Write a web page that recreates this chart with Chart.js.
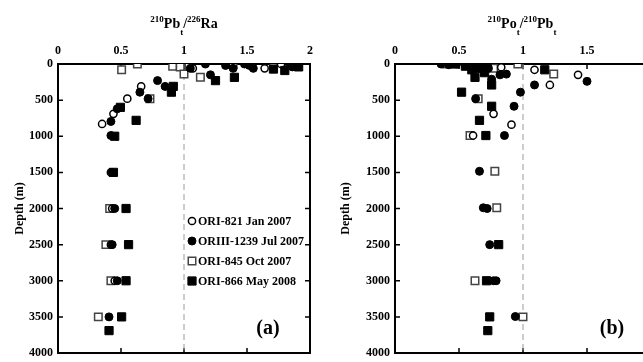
<!DOCTYPE html>
<html>
<head>
<meta charset="utf-8">
<script src="https://cdn.jsdelivr.net/npm/chart.js@4"></script>
<style>
  body { margin: 0; background: #fff; }
  #wrap { position: relative; width: 643px; height: 362px; overflow: hidden; }
  canvas { position: absolute; top: 0; }
</style>
</head>
<body>
<div id="wrap">
  <canvas id="chartA" width="345" height="362" style="left:0"></canvas>
  <canvas id="chartB" width="330" height="362" style="left:330px"></canvas>
</div>
<script>
// ---- data ----
var seriesNames = ['ORI-821 Jan 2007', 'ORIII-1239 Jul 2007', 'ORI-845 Oct 2007', 'ORI-866 May 2008']
var depthTicks = [0, 500, 1000, 1500, 2000, 2500, 3000, 3500, 4000]
var ratioTicks = [0, 0.5, 1, 1.5, 2]

// (a) 210Pb_t / 226Ra
var a821Ratio = [1.77, 1.91, 1.07, 1.64, 0.66, 0.55, 0.44, 0.35, 0.42, 0.43, 0.42, 0.45]
var a821Depth = [0, 0, 60, 60, 310, 480, 690, 830, 1500, 2000, 2500, 3000]
var a1239Ratio = [1.17, 1.33, 1.48, 1.52, 1.55, 1.86, 1.05, 1.21, 1.39, 0.79, 0.85, 0.65, 0.715, 0.47, 0.42, 0.42, 0.43, 0.45, 0.43, 0.47, 0.405]
var a1239Depth = [0, 20, 0, 20, 60, 40, 60, 150, 60, 230, 310, 390, 480, 620, 795, 990, 1500, 2000, 2500, 3000, 3500]
var a845Ratio = [0.63, 0.505, 0.91, 0.97, 1.04, 1.0, 1.13, 1.35, 1.39, 1.71, 0.73, 0.41, 0.38, 0.42, 0.32]
var a845Depth = [0, 80, 30, 40, 40, 140, 185, 0, 0, 0, 480, 2000, 2500, 3000, 3500]
var a866Ratio = [1.84, 1.91, 1.71, 1.80, 1.25, 1.40, 0.915, 0.90, 0.495, 0.62, 0.45, 0.44, 0.54, 0.56, 0.54, 0.505, 0.405]
var a866Depth = [0, 40, 70, 90, 230, 185, 310, 390, 600, 780, 1000, 1500, 2000, 2500, 3000, 3500, 3690]

// (b) 210Po_t / 210Pb_t
var b821Ratio = [0.83, 1.09, 1.43, 1.21, 0.77, 0.91, 0.61]
var b821Depth = [45, 80, 150, 290, 690, 840, 990]
var b1239Ratio = [0.36, 0.42, 0.48, 0.55, 0.62, 0.70, 0.73, 0.82, 0.87, 0.755, 1.09, 1.50, 0.98, 0.93, 0.63, 0.855, 0.66, 0.69, 0.72, 0.74, 0.77, 0.79, 0.94]
var b1239Depth = [0, 10, 0, 20, 40, 0, 60, 150, 140, 210, 290, 240, 390, 585, 480, 990, 1485, 1990, 2000, 2500, 3000, 3000, 3495]
var b845Ratio = [0.40, 0.55, 0.77, 0.96, 1.24, 0.65, 0.586, 0.78, 0.795, 0.625, 1.0]
var b845Depth = [0, 0, 60, 0, 140, 480, 990, 1485, 1990, 3000, 3500]
var b866Ratio = [0.47, 0.63, 0.55, 0.66, 0.72, 0.60, 0.70, 1.17, 0.625, 0.755, 0.52, 0.755, 0.66, 0.71, 0.81, 0.715, 0.74, 0.725]
var b866Depth = [0, 0, 30, 60, 20, 80, 120, 80, 185, 290, 390, 585, 780, 990, 2500, 3000, 3500, 3690]

// ---- styles ----
var serif = '"Liberation Serif", "Times New Roman", serif'
var markers = [
  { pointStyle: 'circle', pointRadius: 3.6, backgroundColor: '#fff', borderColor: '#000', borderWidth: 1.5, order: 2 },
  { pointStyle: 'circle', pointRadius: 4, backgroundColor: '#000', borderColor: '#000', borderWidth: 1, order: 1 },
  { pointStyle: 'rect', pointRadius: 5.3, backgroundColor: '#fff', borderColor: '#444', borderWidth: 1.5, order: 2 },
  { pointStyle: 'rect', pointRadius: 5.8, backgroundColor: '#000', borderColor: '#000', borderWidth: 1, order: 1 }
]

function pairs(xs, ys) {
  return xs.map(function (v, i) { return { x: v, y: ys[i] } })
}

function buildDatasets(list) {
  var ds = list.map(function (s, i) {
    return Object.assign({ label: seriesNames[i], type: 'scatter', data: pairs(s[0], s[1]) }, markers[i])
  })
  // dashed reference line at ratio = 1
  ds.push({
    type: 'line', label: 'ref', data: [{ x: 1, y: depthTicks[0] }, { x: 1, y: depthTicks[depthTicks.length - 1] }],
    borderColor: '#9a9a9a', borderWidth: 1, borderDash: [6, 4], pointRadius: 0, order: 3
  })
  return ds
}

// frame with inward ticks
var framePlugin = {
  id: 'frame',
  beforeDatasetsDraw: function (chart) {
    var ctx = chart.ctx, a = chart.chartArea
    var xs = chart.scales.x, ys = chart.scales.y
    ctx.save()
    ctx.strokeStyle = '#000'
    ctx.lineWidth = 2
    ctx.strokeRect(a.left, a.top, a.right - a.left, a.bottom - a.top)
    ctx.lineWidth = 1.5
    ctx.beginPath()
    xs.ticks.forEach(function (t) {
      var px = xs.getPixelForValue(t.value)
      ctx.moveTo(px, a.top); ctx.lineTo(px, a.top + 5)
      ctx.moveTo(px, a.bottom); ctx.lineTo(px, a.bottom - 5)
    })
    ys.ticks.forEach(function (t) {
      var py = ys.getPixelForValue(t.value)
      ctx.moveTo(a.left, py); ctx.lineTo(a.left + 5, py)
      ctx.moveTo(a.right, py); ctx.lineTo(a.right - 5, py)
    })
    ctx.stroke()
    ctx.restore()
  }
}

// titles with super/subscripts, panel tag, legend
var extrasPlugin = {
  id: 'extras',
  afterDraw: function (chart, args, opts) {
    var ctx = chart.ctx
    ctx.save()
    ctx.fillStyle = '#000'
    ctx.textBaseline = 'alphabetic'
    // title
    var big = 'bold 14px ' + serif, small = 'bold 9px ' + serif
    var w = 0
    opts.title.forEach(function (p) {
      ctx.font = p.s ? small : big
      w += ctx.measureText(p.t).width
    })
    var x = opts.titleX - w / 2
    opts.title.forEach(function (p) {
      ctx.font = p.s ? small : big
      var y = 28
      if (p.s === 'sup') y = 22
      if (p.s === 'sub') y = 35
      ctx.fillText(p.t, x, y)
      x += ctx.measureText(p.t).width
    })
    // panel tag
    ctx.font = 'bold 20px ' + serif
    ctx.textAlign = 'center'
    ctx.fillText(opts.tag, opts.tagX, 334)
    // legend
    if (opts.legend) {
      ctx.textAlign = 'left'
      ctx.textBaseline = 'middle'
      ctx.font = 'bold 12px ' + serif
      var rows = [221, 241, 261, 281]
      chart.data.datasets.slice(0, 4).forEach(function (d, i) {
        var cx = 192, cy = rows[i]
        ctx.beginPath()
        if (d.pointStyle === 'circle') {
          ctx.arc(cx, cy, d.pointRadius, 0, Math.PI * 2)
        } else {
          var h = d.pointRadius * Math.SQRT1_2
          ctx.rect(cx - h, cy - h, 2 * h, 2 * h)
        }
        ctx.fillStyle = d.backgroundColor
        ctx.fill()
        ctx.lineWidth = d.borderWidth
        ctx.strokeStyle = d.borderColor
        ctx.stroke()
        ctx.fillStyle = '#000'
        ctx.fillText(d.label, 198, cy + 1)
      })
    }
    ctx.restore()
  }
}

function plain(v) { return String(v) }

function makeOptions(yWidth, extras) {
  var tickFont = { family: serif, size: 12, weight: 'bold' }
  return {
    responsive: false,
    animation: false,
    layout: { padding: { top: 0, bottom: 9, left: 0, right: extras.padRight } },
    scales: {
      x: {
        type: 'linear', position: 'top', min: 0, max: 2,
        afterBuildTicks: function (s) { s.ticks = ratioTicks.map(function (v) { return { value: v } }) },
        afterFit: function (s) { s.height = 64; s.paddingLeft = 0; s.paddingRight = 0 },
        grid: { display: false, drawTicks: false },
        border: { display: false },
        ticks: { color: '#000', font: tickFont, padding: 6, maxRotation: 0, callback: plain }
      },
      y: {
        type: 'linear', reverse: true, min: 0, max: 4000,
        afterBuildTicks: function (s) { s.ticks = depthTicks.map(function (v) { return { value: v } }) },
        afterFit: function (s) { s.width = yWidth; s.paddingTop = 0; s.paddingBottom = 0 },
        grid: { display: false, drawTicks: false },
        border: { display: false },
        ticks: { color: '#000', font: tickFont, padding: 5, callback: plain },
        title: { display: true, text: 'Depth (m)', color: '#000', font: { family: serif, size: 12, weight: 'bold' }, padding: { top: extras.titlePad, bottom: 0 } }
      }
    },
    plugins: {
      legend: { display: false },
      tooltip: { enabled: false },
      extras: extras
    }
  }
}

new Chart(document.getElementById('chartA').getContext('2d'), {
  data: {
    datasets: buildDatasets([[a821Ratio, a821Depth], [a1239Ratio, a1239Depth], [a845Ratio, a845Depth], [a866Ratio, a866Depth]])
  },
  options: makeOptions(58, {
    padRight: 35, titlePad: 13,
    titleX: 184, tag: '(a)', tagX: 268, legend: true,
    title: [{ t: '210', s: 'sup' }, { t: 'Pb' }, { t: 't', s: 'sub' }, { t: '/' }, { t: '226', s: 'sup' }, { t: 'Ra' }]
  }),
  plugins: [framePlugin, extrasPlugin]
})

new Chart(document.getElementById('chartB').getContext('2d'), {
  data: {
    datasets: buildDatasets([[b821Ratio, b821Depth], [b1239Ratio, b1239Depth], [b845Ratio, b845Depth], [b866Ratio, b866Depth]])
  },
  options: makeOptions(65, {
    padRight: 9, titlePad: 9,
    titleX: 192, tag: '(b)', tagX: 282, legend: false,
    title: [{ t: '210', s: 'sup' }, { t: 'Po' }, { t: 't', s: 'sub' }, { t: '/' }, { t: '210', s: 'sup' }, { t: 'Pb' }, { t: 't', s: 'sub' }]
  }),
  plugins: [framePlugin, extrasPlugin]
})
</script>
</body>
</html>
